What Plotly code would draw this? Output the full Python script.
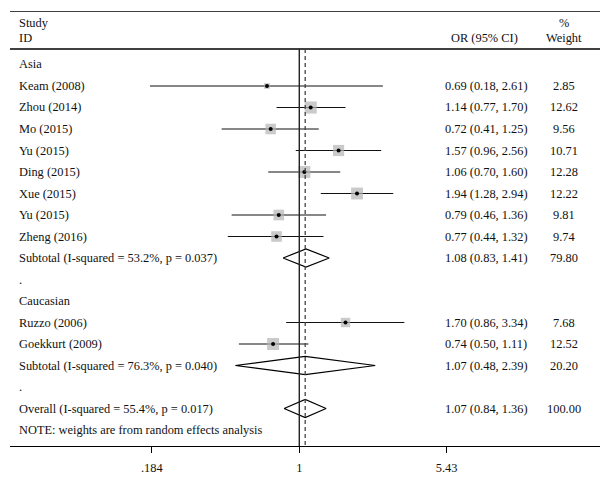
import math
import plotly.graph_objects as go

# ---------------- data ----------------
row_labels = [
    "Asia", "Keam (2008)", "Zhou (2014)", "Mo (2015)", "Yu (2015)", "Ding (2015)",
    "Xue (2015)", "Yu (2015)", "Zheng (2016)",
    "Subtotal (I-squared = 53.2%, p = 0.037)", ".",
    "Caucasian", "Ruzzo (2006)", "Goekkurt (2009)",
    "Subtotal (I-squared = 76.3%, p = 0.040)", ".",
    "Overall (I-squared = 55.4%, p = 0.017)",
    "NOTE: weights are from random effects analysis",
]

study_rows = [1, 2, 3, 4, 5, 6, 7, 8, 12, 13]
study_or = [0.69, 1.14, 0.72, 1.57, 1.06, 1.94, 0.79, 0.77, 1.70, 0.74]
study_lo = [0.18, 0.77, 0.41, 0.96, 0.70, 1.28, 0.46, 0.44, 0.86, 0.50]
study_hi = [2.61, 1.70, 1.25, 2.56, 1.60, 2.94, 1.36, 1.32, 3.34, 1.11]
study_wt = [2.85, 12.62, 9.56, 10.71, 12.28, 12.22, 9.81, 9.74, 7.68, 12.52]

pooled_rows = [9, 14, 16]
pooled_or = [1.08, 1.07, 1.07]
pooled_lo = [0.83, 0.48, 0.84]
pooled_hi = [1.41, 2.39, 1.36]
pooled_wt = [79.80, 20.20, 100.00]

overall_or = 1.07
tick_vals = [0.184, 1, 5.43]
tick_text = [".184", "1", "5.43"]

# ---------------- figure ----------------
FONT = "Liberation Serif"
FS = 12.4
TXT = "#111111"
fig = go.Figure()

# CI lines
for r, lo, hi in zip(study_rows, study_lo, study_hi):
    fig.add_trace(go.Scatter(x=[lo, hi], y=[r, r], mode="lines",
                             line=dict(color="#111111", width=1.1),
                             hoverinfo="skip", showlegend=False))

# weight boxes
fig.add_trace(go.Scatter(
    x=study_or, y=study_rows, mode="markers",
    marker=dict(symbol="square", color="#b3b3b3",
                size=[3.4 * math.sqrt(w) for w in study_wt], line=dict(width=0)),
    hoverinfo="skip", showlegend=False))

# point estimates
fig.add_trace(go.Scatter(
    x=study_or, y=study_rows, mode="markers",
    marker=dict(symbol="circle", color="#000000", size=4),
    hoverinfo="skip", showlegend=False))

# diamonds
H = 0.42
for r, est, lo, hi in zip(pooled_rows, pooled_or, pooled_lo, pooled_hi):
    fig.add_trace(go.Scatter(
        x=[lo, est, hi, est, lo], y=[r, r - H, r, r + H, r], mode="lines",
        line=dict(color="#000000", width=1.2), hoverinfo="skip", showlegend=False))

Y_TOP = -2.488
Y_HEAD = -0.72
Y_BOT = 17.744

shapes = [
    dict(type="line", xref="paper", yref="y", x0=0, x1=1, y0=Y_TOP, y1=Y_TOP,
         line=dict(color="#000000", width=1.3)),
    dict(type="line", xref="paper", yref="y", x0=0, x1=1, y0=Y_HEAD, y1=Y_HEAD,
         line=dict(color="#000000", width=1.3)),
    dict(type="line", xref="x", yref="y", x0=1, x1=1, y0=Y_HEAD, y1=Y_BOT,
         line=dict(color="#222222", width=1.4)),
    dict(type="line", xref="x", yref="y", x0=overall_or, x1=overall_or, y0=Y_HEAD, y1=Y_BOT,
         line=dict(color="#444444", width=1.3, dash="4px,3px")),
]

ann = []
def add_text(x, y, text, anchor):
    ann.append(dict(xref="paper", yref="y", x=x, y=y, text=text, showarrow=False,
                    xanchor=anchor, yanchor="middle",
                    font=dict(family=FONT, size=FS, color=TXT)))

LX = 0.0119
OR_X = 0.8068
WT_X = 0.939

# header
add_text(LX, -1.93, "Study", "left")
add_text(LX, -1.22, "ID", "left")
add_text(0.805, -1.22, "OR (95% CI)", "center")
add_text(WT_X, -1.93, "%", "center")
add_text(WT_X, -1.22, "Weight", "center")

for i, lab in enumerate(row_labels):
    add_text(LX, i, lab, "left")

for r, est, lo, hi, w in zip(study_rows, study_or, study_lo, study_hi, study_wt):
    add_text(OR_X, r, f"{est:.2f} ({lo:.2f}, {hi:.2f})", "center")
    add_text(WT_X, r, f"{w:.2f}", "center")
for r, est, lo, hi, w in zip(pooled_rows, pooled_or, pooled_lo, pooled_hi, pooled_wt):
    add_text(OR_X, r, f"{est:.2f} ({lo:.2f}, {hi:.2f})", "center")
    add_text(WT_X, r, f"{w:.2f}", "center")

# page body has an 8px default margin: figure is sized/margined to compensate
fig.update_layout(
    width=603, height=475,
    margin=dict(l=2, r=11, t=3, b=37, pad=0),
    paper_bgcolor="white", plot_bgcolor="white",
    shapes=shapes, annotations=ann,
    showlegend=False,
    xaxis=dict(type="log", range=[-1.4424, 1.4993], showgrid=False, zeroline=False,
               showline=True, linecolor="#000000", linewidth=1.3,
               ticks="outside", ticklen=6, tickwidth=1, tickcolor="#000000",
               tickvals=tick_vals, ticktext=tick_text, ticklabelstandoff=4,
               tickfont=dict(family=FONT, size=FS, color=TXT), fixedrange=True),
    yaxis=dict(range=[Y_BOT, Y_TOP], visible=False, showgrid=False, zeroline=False,
               fixedrange=True),
)

fig.write_html("out.html")
